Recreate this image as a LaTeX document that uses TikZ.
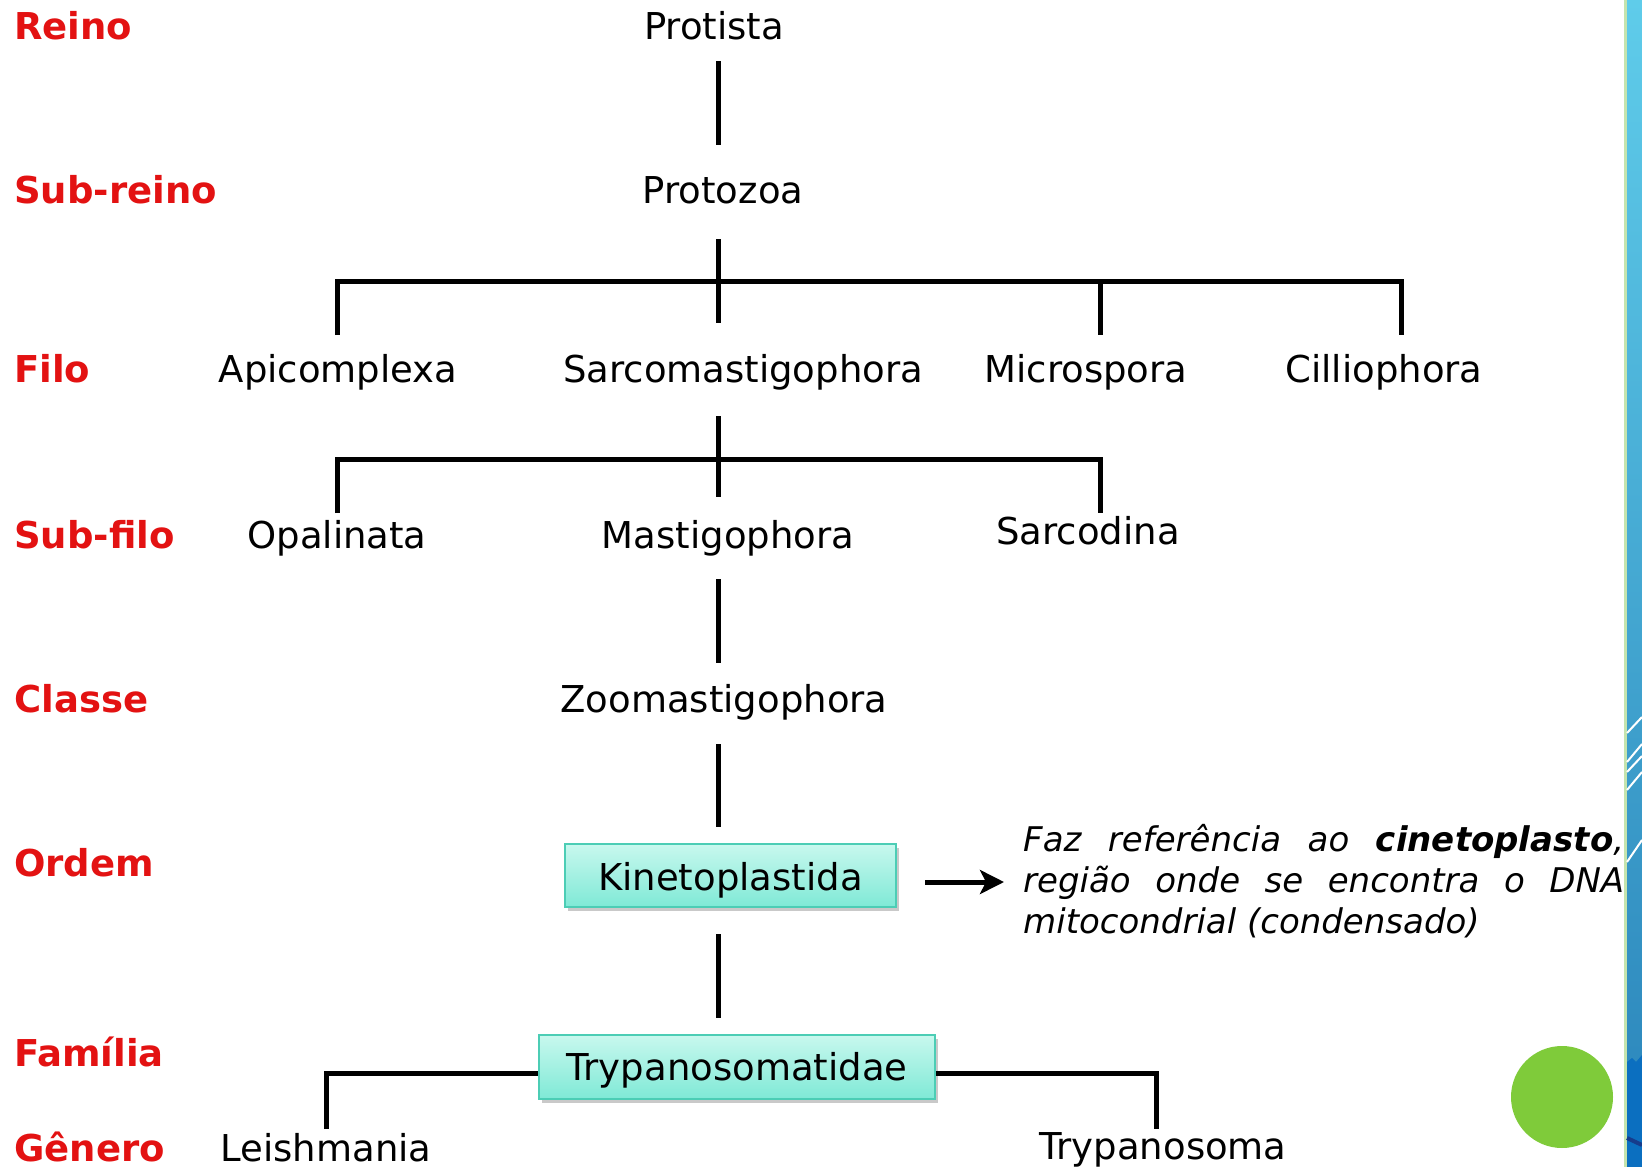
\documentclass[tikz,border=0pt]{standalone}
\usepackage{fontspec}
\setmainfont{DejaVu Sans}
\usetikzlibrary{arrows.meta,shadows}
\definecolor{lblred}{HTML}{E31212}
\definecolor{boxedge}{HTML}{4CCDB5}
\definecolor{boxtop}{HTML}{C8F8EE}
\definecolor{boxbot}{HTML}{7FE9D6}
\definecolor{stripgreen}{HTML}{C5E4AE}
\definecolor{striptop}{HTML}{5FCCEA}
\definecolor{stripbot}{HTML}{2A84BA}
\definecolor{stripdeep}{HTML}{0B6FC0}
\definecolor{stripnavy}{HTML}{163C8C}
\definecolor{dotgreen}{HTML}{7FCB3A}
\begin{document}
\begin{tikzpicture}[x=1pt,y=-1pt,
  lbl/.style={anchor=base west, text=lblred, font=\fontsize{37}{44}\selectfont\bfseries, inner sep=0pt},
  txt/.style={anchor=base, font=\fontsize{37}{44}\selectfont, inner sep=0pt},
  tree/.style={line width=5pt, line join=miter, line cap=butt, draw=black},
  taxbox/.style={draw=boxedge, line width=2pt, top color=boxtop, bottom color=boxbot,
    font=\fontsize{37}{44}\selectfont, inner sep=0pt, text depth=0pt,
    drop shadow={shadow xshift=3pt, shadow yshift=-4pt, opacity=0.35, fill=black!60}},
  note/.style={anchor=base west, inner sep=0pt, text width=601pt, align=justify,
    font=\fontsize{34}{41}\selectfont\itshape}
]
\fill[white] (0,0) rectangle (1642,1167);
\useasboundingbox (0,0) rectangle (1642,1167);

% rank labels
\node[lbl] (lreino) at (14,39) {Reino};
\node[lbl] (lsubreino) at (14,203) {Sub-reino};
\node[lbl] (lfilo) at (14,382) {Filo};
\node[lbl] (lsubfilo) at (14,548) {Sub-filo};
\node[lbl] (lclasse) at (14,712) {Classe};
\node[lbl] (lordem) at (14,876) {Ordem};
\node[lbl] (lfamilia) at (14,1066) {Família};
\node[lbl] (lgenero) at (14,1161) {Gênero};

% taxa
\node[txt] (protista) at (714,39) {Protista};
\node[txt] (protozoa) at (723,203) {Protozoa};
\node[txt] (apicomplexa) at (338,382) {Apicomplexa};
\node[txt] (sarcomastigophora) at (743,382) {Sarcomastigophora};
\node[txt] (microspora) at (1086,382) {Microspora};
\node[txt] (cilliophora) at (1384,382) {Cilliophora};
\node[txt] (opalinata) at (337,548) {Opalinata};
\node[txt] (mastigophora) at (728,548) {Mastigophora};
\node[txt] (sarcodina) at (1088,544) {Sarcodina};
\node[txt] (zoomastigophora) at (724,712) {Zoomastigophora};
\node[txt] (leishmania) at (326,1161) {Leishmania};
\node[txt] (trypanosoma) at (1163,1159) {Trypanosoma};

% connector end points
\coordinate (a1) at (718,61);   \coordinate (a2) at (718,145);
\coordinate (b1) at (718,239);  \coordinate (b2) at (718,323);
\coordinate (b3) at (337,335);  \coordinate (b4) at (337,281);
\coordinate (b5) at (1401,281); \coordinate (b6) at (1401,335);
\coordinate (b7) at (1100,281); \coordinate (b8) at (1100,335);
\coordinate (c1) at (718,416);  \coordinate (c2) at (718,497);
\coordinate (c3) at (337,513);  \coordinate (c4) at (337,459);
\coordinate (c5) at (1100,459); \coordinate (c6) at (1100,513);
\coordinate (d1) at (718,579);  \coordinate (d2) at (718,663);
\coordinate (e1) at (718,744);  \coordinate (e2) at (718,827);
\coordinate (f1) at (718,934);  \coordinate (f2) at (718,1018);
\coordinate (g1) at (326,1129); \coordinate (g2) at (326,1073);
\coordinate (g3) at (1156,1073);\coordinate (g4) at (1156,1129);
\coordinate (arrs) at (925,882); \coordinate (arre) at (1004,882);

\draw[tree] (a1) -- (a2);
\draw[tree] (b1) -- (b2);
\draw[tree] (b3) -- (b4) -- (b5) -- (b6);
\draw[tree] (b7) -- (b8);
\draw[tree] (c1) -- (c2);
\draw[tree] (c3) -- (c4) -- (c5) -- (c6);
\draw[tree] (d1) -- (d2);
\draw[tree] (e1) -- (e2);
\draw[tree] (f1) -- (f2);

% boxes
\node[taxbox, minimum width=331pt, minimum height=63pt, text height=29pt] (kineto) at (730.5,875.5) {Kinetoplastida};
\node[taxbox, minimum width=396pt, minimum height=64pt, text height=26pt] (trypfam) at (737,1067) {Trypanosomatidae};

\draw[tree] (g1) -- (g2) -- (trypfam.west |- g2);
\draw[tree] (trypfam.east |- g3) -- (g3) -- (g4);

\draw[tree, -{Stealth[length=24pt,width=24pt,inset=6pt]}] (arrs) -- (arre);

% annotation
\node[note] (nota) at (1023,851) {Faz referência ao \textbf{cinetoplasto},\linebreak região onde se encontra o DNA\linebreak mitocondrial (condensado)};

% right decorative strip
\fill[stripgreen] (1624,0) rectangle (1627,1167);
\shade[top color=striptop, bottom color=stripbot] (1627,0) rectangle (1642,1167);
\fill[stripdeep] (1627,1062) -- (1632,1058) -- (1636,1062) -- (1642,1055) -- (1642,1167) -- (1627,1167) -- cycle;
\draw[stripnavy, line width=4pt] (1627,1138) -- (1642,1145);
\begin{scope}[white, line width=2pt]
\draw (1627,733) -- (1642,717);
\draw (1627,762) -- (1642,744);
\draw (1627,772) -- (1642,756);
\draw (1627,790) -- (1642,772);
\draw (1627,862) -- (1642,840);
\end{scope}

% green dot
\fill[dotgreen] (1562,1097) circle[radius=51];
\end{tikzpicture}
\end{document}
